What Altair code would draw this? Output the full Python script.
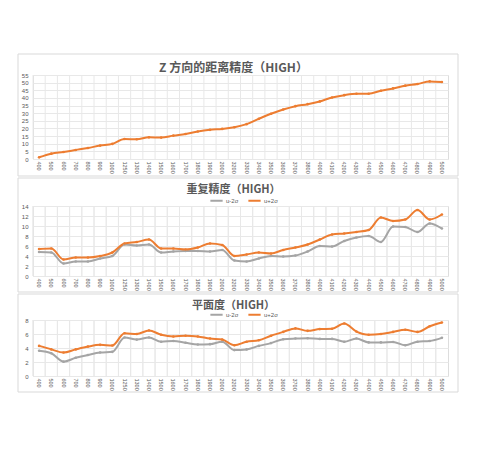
import altair as alt
import pandas as pd

cats = ["400", "500", "600", "700", "800", "900", "1000", "1250", "1300", "1400",
        "1500", "1600", "1700", "1800", "1900", "2000", "3200", "3300", "3400", "3500",
        "3600", "3700", "3800", "4000", "4100", "4200", "4300", "4400", "4500", "4600",
        "4700", "4800", "4900", "5000"]

z_vals = [1.1, 3.5, 4.6, 5.9, 7.2, 8.8, 9.9, 13.1, 12.9, 14.2, 14.0, 15.3, 16.4, 18.0,
          19.1, 19.7, 20.8, 22.8, 26.3, 29.6, 32.4, 34.6, 35.9, 37.7, 40.3, 41.8, 42.7,
          42.7, 44.7, 46.2, 48.0, 49.1, 50.8, 50.4]

rep_lo = [4.8, 4.7, 2.5, 2.9, 2.9, 3.5, 4.0, 6.3, 6.1, 6.3, 4.7, 4.9, 5.0, 5.0, 4.9, 5.2,
          3.1, 2.9, 3.5, 4.0, 3.9, 4.1, 4.9, 6.0, 5.9, 7.0, 7.7, 8.0, 6.8, 9.9, 9.8, 8.8,
          10.5, 9.5]
rep_hi = [5.4, 5.5, 3.3, 3.7, 3.7, 4.0, 4.7, 6.5, 6.8, 7.3, 5.5, 5.5, 5.3, 5.7, 6.5, 6.2,
          4.0, 4.3, 4.7, 4.5, 5.2, 5.7, 6.3, 7.3, 8.3, 8.5, 8.8, 9.2, 11.7, 11.0, 11.3, 13.2,
          11.3, 12.3]

flat_lo = [3.6, 3.25, 2.05, 2.6, 3.0, 3.35, 3.45, 5.5, 5.2, 5.5, 4.9, 5.0, 4.75, 4.5, 4.55,
           4.9, 3.7, 3.8, 4.3, 4.7, 5.25, 5.35, 5.4, 5.3, 5.3, 4.9, 5.35, 4.8, 4.8, 4.85,
           4.4, 4.9, 5.0, 5.45]
flat_hi = [4.3, 3.8, 3.35, 3.8, 4.2, 4.45, 4.35, 6.1, 6.0, 6.5, 5.9, 5.65, 5.75, 5.65, 5.35,
           5.2, 4.4, 4.9, 5.1, 5.75, 6.3, 6.8, 6.45, 6.7, 6.75, 7.5, 6.35, 5.9, 6.0, 6.3,
           6.6, 6.3, 7.1, 7.65]

series_names = ["u-2σ", "u+2σ"]
titles = ["Z 方向的距离精度（HIGH）", "重复精度（HIGH）", "平面度（HIGH）"]

ORANGE = "#ED7D31"
GRAY = "#A5A5A5"
TXT = "#595959"
GRID = "#E8E8E8"
FRAME = "#D9D9D9"
W = 415
NUMFONT = "Liberation Sans"
CJK = "Noto Sans CJK SC"


def x_enc(band_pos=None):
    kw = {}
    if band_pos is not None:
        kw["bandPosition"] = band_pos
    return alt.X("cat:N", sort=cats, title=None,
                 scale=alt.Scale(type="band", paddingInner=0, paddingOuter=0),
                 axis=alt.Axis(labelAngle=90, labelFontSize=5.5, labelColor=TXT,
                               labelFont=NUMFONT, ticks=False, domainColor=GRID,
                               grid=False, labelPadding=2),
                 **kw)


def y_enc(vmax, step):
    return alt.Y("v:Q", title=None,
                 scale=alt.Scale(domain=[0, vmax], nice=False, zero=True),
                 axis=alt.Axis(values=list(range(0, vmax + 1, step)), labelFontSize=6,
                               labelColor=TXT, labelFont=NUMFONT, ticks=False,
                               domain=False, gridColor=GRID, labelPadding=5))


def frame(h_top, h_bot):
    return alt.Chart(pd.DataFrame({"f": [0]})).mark_rect(
        fill="white", fillOpacity=0, stroke=FRAME, strokeWidth=1
    ).encode(x=alt.value(-15), x2=alt.value(425), y=alt.value(h_top), y2=alt.value(h_bot))


def panel(df, title, fsize, vmax, step, height, ftop, fbot, dy, legend):
    vgrid = alt.Chart(df).mark_rule(color=GRID, strokeWidth=1).encode(x=x_enc(0))
    if legend:
        color = alt.Color("s:N", sort=series_names,
                          scale=alt.Scale(domain=series_names, range=[GRAY, ORANGE]),
                          legend=alt.Legend(orient="none", legendX=176, legendY=-13,
                                            direction="horizontal", title=None,
                                            labelFontSize=6, labelColor=TXT,
                                            labelFont=NUMFONT, symbolType="stroke",
                                            symbolSize=150, symbolStrokeWidth=2,
                                            columnPadding=5, labelOffset=2))
        line = alt.Chart(df).mark_line(
            interpolate="monotone", strokeWidth=2,
            point=alt.OverlayMarkDef(filled=True, size=7)
        ).encode(x=x_enc(), y=y_enc(vmax, step), color=color, order=alt.Order("o:Q"))
    else:
        line = alt.Chart(df).mark_line(
            interpolate="monotone", strokeWidth=2, color=ORANGE,
            point=alt.OverlayMarkDef(filled=True, size=7, color=ORANGE)
        ).encode(x=x_enc(), y=y_enc(vmax, step))
    return alt.layer(frame(ftop, fbot), vgrid, line).properties(
        width=W, height=height,
        title=alt.TitleParams(title, font=CJK, fontSize=fsize, fontWeight="bold",
                              color=TXT, anchor="middle", offset=0, dx=-7, dy=dy))


df1 = pd.DataFrame({"cat": cats, "v": z_vals})
df2 = pd.DataFrame({"cat": cats * 2, "v": rep_lo + rep_hi,
                    "s": [series_names[0]] * len(cats) + [series_names[1]] * len(cats),
                    "o": list(range(len(cats))) * 2})
df3 = pd.DataFrame({"cat": cats * 2, "v": flat_lo + flat_hi,
                    "s": [series_names[0]] * len(cats) + [series_names[1]] * len(cats),
                    "o": list(range(len(cats))) * 2})

p1 = panel(df1, titles[0], 12, 55, 5, 84, -21, 101, 21, False)
p2 = panel(df2, titles[1], 11, 14, 2, 70, -28, 86, 17, True)
p3 = panel(df3, titles[2], 11, 8, 2, 56, -26, 72, 17, True)

chart = alt.vconcat(p1, p2, p3, spacing=0).resolve_scale(
    color="independent"
).resolve_legend(color="independent").properties(
    padding={"left": 17, "top": 53, "right": 5, "bottom": 5}
).configure_view(stroke=GRID).configure(background="white")

chart.save("out.html", embed_options={"renderer": "svg", "actions": False})
